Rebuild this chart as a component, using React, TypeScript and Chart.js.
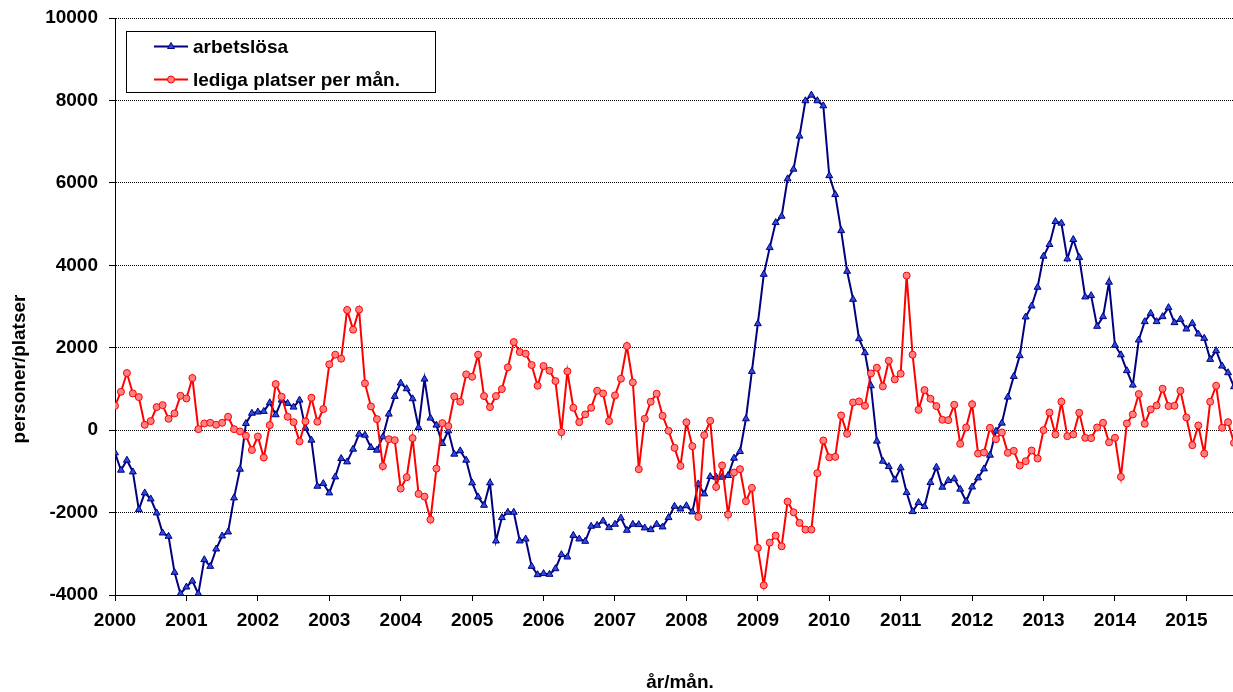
import React, { useEffect, useRef } from 'react';
import { Chart, registerables } from 'chart.js';

Chart.register(...registerables);

// Year tick labels (one per January)
const years = ['2000', '2001', '2002', '2003', '2004', '2005', '2006', '2007', '2008', '2009', '2010', '2011', '2012', '2013', '2014', '2015'];

// y-axis tick values
const yTicks = [-4000, -2000, 0, 2000, 4000, 6000, 8000, 10000];

// Monthly values, Jan 2000 onward
const arbetslosa = [
  -551, -972, -729, -1013, -1928, -1523, -1669, -2009, -2495, -2576, -3451, -3969,
  -3807, -3661, -3969, -3143, -3305, -2884, -2568, -2471, -1644, -948, 162, 410,
  440, 454, 664, 373, 729, 648, 559, 729, 49, -243, -1361, -1296,
  -1523, -1134, -689, -770, -462, -97, -122, -421, -486, -162, 389, 818,
  1142, 1004, 761, 65, 1239, 292, 122, -324, -16, -583, -502, -729,
  -1280, -1620, -1823, -1280, -2689, -2122, -1993, -1993, -2689, -2641, -3305, -3507,
  -3480, -3499, -3362, -3021, -3078, -2552, -2641, -2697, -2333, -2309, -2203, -2365,
  -2284, -2130, -2430, -2284, -2292, -2373, -2414, -2284, -2349, -2122, -1847, -1912,
  -1835, -1984, -1304, -1547, -1126, -1142, -1142, -1101, -680, -518, 275, 1425,
  2583, 3781, 4429, 5036, 5190, 6097, 6332, 7134, 7992, 8129, 7992, 7870,
  6175, 5716, 4842, 3854, 3174, 2219, 1879, 1077, -267, -753, -883, -1207,
  -915, -1514, -1976, -1757, -1854, -1271, -899, -1385, -1223, -1182, -1433, -1725,
  -1380, -1158, -940, -608, -24, 170, 802, 1304, 1806, 2746, 3013, 3467,
  4220, 4504, 5062, 5022, 4155, 4625, 4188, 3232, 3264, 2519, 2754, 3590,
  2060, 1827, 1442, 1094, 2187, 2633, 2835, 2633, 2754, 2973, 2608, 2689,
  2454, 2592, 2333, 2228, 1717, 1928, 1555, 1393, 1053,
];

const ledigaPlatser = [
  591, 931, 1385, 891, 802, 130, 219, 559, 607, 275, 405, 834,
  770, 1264, 24, 162, 178, 130, 178, 324, 24, -32, -138, -482,
  -154, -664, 122, 1118, 810, 324, 194, -275, 211, 786, 203, 510,
  1596, 1831, 1733, 2916, 2438, 2924, 1134, 575, 267, -875, -219, -243,
  -1418, -1142, -194, -1547, -1612, -2171, -932, 170, 97, 818, 689, 1353,
  1296, 1831, 826, 559, 826, 996, 1523, 2138, 1895, 1855, 1580, 1077,
  1555, 1442, 1191, -49, 1426, 543, 194, 381, 543, 956, 891, 219,
  842, 1247, 2041, 1158, -948, 275, 689, 883, 348, -16, -429, -867,
  190, -389, -2105, -121, 227, -1377, -858, -2049, -1028, -947, -1725, -1401,
  -2858, -3765, -2729, -2559, -2818, -1733, -1992, -2251, -2413, -2413, -1045, -251,
  -660, -648, 356, -89, 672, 697, 591, 1377, 1515, 1061, 1685, 1231,
  1369, 3750, 1830, 494, 972, 761, 583, 251, 243, 615, -332, 65,
  628, -567, -543, 57, -219, -57, -551, -502, -859, -753, -494, -689,
  0, 429, -105, 689, -146, -105, 421, -186, -194, 65, 178, -296,
  -186, -1134, 162, 381, 875, 154, 502, 599, 1004, 583, 591, 956,
  308, -365, 113, -567, 689, 1077, 57, 194, -308,
];

const seriesNames = ['arbetslösa', 'lediga platser per mån.'];
const yTitle = 'personer/platser';
const xTitle = 'år/mån.';

const FAMILY = "Arial, 'Liberation Sans', sans-serif";
const BLUE_LINE = '#000080';
const BLUE_FILL = '#2b4bdc';
const RED_LINE = '#ff0000';
const RED_FILL = '#ff8080';

function drawTriangle(ctx: CanvasRenderingContext2D, x: number, y: number, r: number) {
  ctx.beginPath();
  let rad = 0;
  ctx.moveTo(x + Math.sin(rad) * r, y - Math.cos(rad) * r);
  rad += (2 * Math.PI) / 3;
  ctx.lineTo(x + Math.sin(rad) * r, y - Math.cos(rad) * r);
  rad += (2 * Math.PI) / 3;
  ctx.lineTo(x + Math.sin(rad) * r, y - Math.cos(rad) * r);
  ctx.closePath();
}

const decorPlugin = {
  id: 'excelDecor',
  afterDraw(chart: any) {
    const ctx: CanvasRenderingContext2D = chart.ctx;
    ctx.save();
    // Legend box
    ctx.fillStyle = '#ffffff';
    ctx.fillRect(127, 32, 308, 60);
    ctx.strokeStyle = '#000000';
    ctx.lineWidth = 1;
    ctx.strokeRect(126.5, 31.5, 309, 61);

    // Blue entry
    ctx.strokeStyle = BLUE_LINE;
    ctx.lineWidth = 2;
    ctx.beginPath();
    ctx.moveTo(154, 46.5);
    ctx.lineTo(188, 46.5);
    ctx.stroke();
    drawTriangle(ctx, 171, 46.5, 4);
    ctx.fillStyle = BLUE_FILL;
    ctx.fill();
    ctx.lineWidth = 1;
    ctx.stroke();

    // Red entry
    ctx.strokeStyle = RED_LINE;
    ctx.lineWidth = 2;
    ctx.beginPath();
    ctx.moveTo(154, 79.5);
    ctx.lineTo(188, 79.5);
    ctx.stroke();
    ctx.beginPath();
    ctx.arc(171, 79.5, 3.5, 0, Math.PI * 2);
    ctx.fillStyle = RED_FILL;
    ctx.fill();
    ctx.lineWidth = 1;
    ctx.stroke();

    ctx.fillStyle = '#000000';
    ctx.font = `bold 19px ${FAMILY}`;
    ctx.textAlign = 'left';
    ctx.textBaseline = 'alphabetic';
    ctx.fillText(seriesNames[0], 193, 53);
    ctx.fillText(seriesNames[1], 193, 86);

    // Axis titles
    ctx.textAlign = 'center';
    ctx.fillText(xTitle, 680, 688);
    ctx.translate(25, 369);
    ctx.rotate(-Math.PI / 2);
    ctx.fillText(yTitle, 0, 0);
    ctx.restore();
  },
};

export default function App() {
  const canvasRef = useRef<HTMLCanvasElement>(null);

  useEffect(() => {
    const canvas = canvasRef.current;
    if (!canvas) return;
    const lastIndex = arbetslosa.length - 1;
    const chart = new Chart(canvas, {
      type: 'line',
      data: {
        datasets: [
          {
            label: seriesNames[0],
            data: arbetslosa.map((v, i) => ({ x: i, y: v })),
            borderColor: BLUE_LINE,
            borderWidth: 2,
            pointStyle: 'triangle',
            pointRadius: 4,
            pointBackgroundColor: BLUE_FILL,
            pointBorderColor: BLUE_LINE,
            pointBorderWidth: 1,
            tension: 0,
            order: 2,
          },
          {
            label: seriesNames[1],
            data: ledigaPlatser.map((v, i) => ({ x: i, y: v })),
            borderColor: RED_LINE,
            borderWidth: 2,
            pointStyle: 'circle',
            pointRadius: 3.5,
            pointBackgroundColor: RED_FILL,
            pointBorderColor: RED_LINE,
            pointBorderWidth: 1,
            tension: 0,
            order: 1,
          },
        ],
      },
      options: {
        animation: false,
        responsive: false,
        events: [],
        layout: { padding: { top: 18, left: 0, right: 0, bottom: 0 } },
        plugins: {
          legend: { display: false },
          tooltip: { enabled: false },
        },
        scales: {
          x: {
            type: 'linear',
            position: 'bottom',
            min: 0,
            max: lastIndex,
            afterBuildTicks: (scale: any) => {
              scale.ticks = years.map((_, k) => ({ value: k * 12 }));
            },
            afterFit: (scale: any) => {
              scale.height = 97;
            },
            ticks: {
              autoSkip: false,
              maxRotation: 0,
              padding: 8,
              color: '#000000',
              font: { family: FAMILY, size: 19, weight: 'bold' },
              callback: (value: any) => years[Math.round(Number(value) / 12)] ?? '',
            },
            grid: {
              drawOnChartArea: false,
              drawTicks: true,
              tickLength: 6,
              tickColor: '#000000',
              color: '#000000',
            },
            border: { display: true, color: '#000000', width: 1 },
          },
          y: {
            type: 'linear',
            min: -4000,
            max: 10000,
            afterBuildTicks: (scale: any) => {
              scale.ticks = yTicks.map((v) => ({ value: v }));
            },
            afterFit: (scale: any) => {
              scale.width = 115;
              scale.paddingTop = 0;
              scale.paddingBottom = 0;
            },
            ticks: {
              padding: 11,
              color: '#000000',
              font: { family: FAMILY, size: 19, weight: 'bold' },
              callback: (value: any) => String(value),
            },
            grid: {
              drawOnChartArea: true,
              drawTicks: true,
              tickLength: 6,
              tickColor: '#000000',
              color: '#000000',
              lineWidth: 1,
            },
            border: { display: true, color: '#000000', width: 1, dash: [1, 1] },
          },
        },
      },
      plugins: [decorPlugin],
    } as any);
    return () => chart.destroy();
  }, []);

  return (
    <div style={{ position: 'absolute', left: 0, top: 0, width: 1233, height: 692, overflow: 'hidden' }}>
      <canvas ref={canvasRef} width={1239} height={692} />
    </div>
  );
}
